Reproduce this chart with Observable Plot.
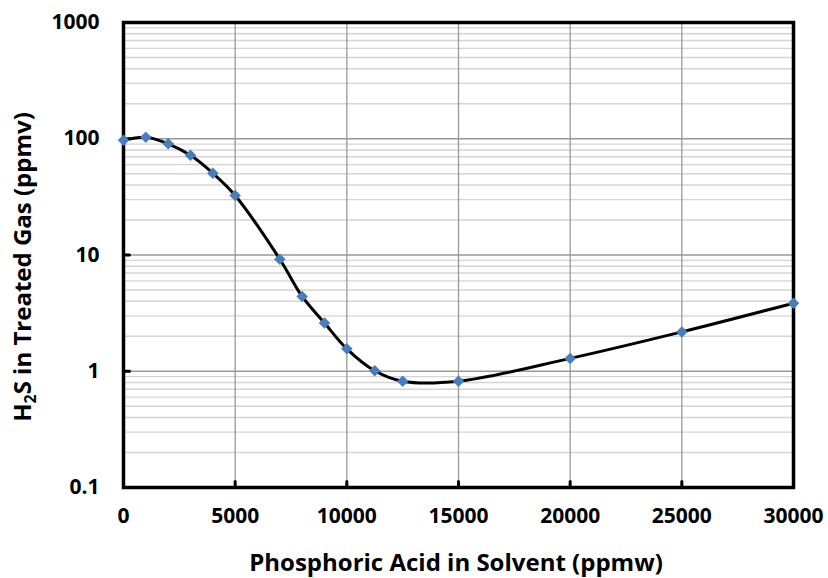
<!DOCTYPE html>
<html><head><meta charset="utf-8">
<script src="https://cdn.jsdelivr.net/npm/d3@7"></script>
<script src="https://cdn.jsdelivr.net/npm/@observablehq/plot@0.6"></script>
<style>
body{margin:0;background:#fff;}
#chart{width:828px;height:578px;}
</style>
</head><body><div id="chart"></div>
<script>
const acid = [0, 1000, 2000, 3000, 4000, 5000, 7000, 8000, 9000, 10000, 11250, 12500, 15000, 20000, 25000, 30000];
const h2s = [97, 103, 90.5, 72, 50.5, 32.5, 9.2, 4.4, 2.6, 1.56, 1.01, 0.82, 0.82, 1.29, 2.18, 3.85];
const xTicks = [0, 5000, 10000, 15000, 20000, 25000, 30000];
const yTicks = [0.1, 1, 10, 100, 1000];
const yMinor = [];
for (const d of [0.1, 1, 10, 100]) for (let k = 2; k <= 9; k++) yMinor.push(+(d * k).toPrecision(3));

const data = acid.map((x, i) => ({x, y: h2s[i]}));
const font = "'Open Sans', sans-serif";
const tickShape = {draw(ctx, l) { ctx.moveTo(0, 0); ctx.lineTo(0, -l); }};

const plot = Plot.plot({
  width: 828, height: 578,
  marginLeft: 123, marginRight: 35, marginTop: 22, marginBottom: 91,
  style: {fontFamily: font, fontSize: "21px", fontWeight: "bold", color: "#000", background: "#fff"},
  x: {domain: [0, 30000], ticks: xTicks, tickFormat: d => String(d), label: null},
  y: {type: "log", domain: [0.1, 1000], ticks: yTicks, tickFormat: d => String(d), label: null},
  marks: [
    Plot.ruleY(yMinor, {stroke: "#d4d4d4", strokeWidth: 1.3}),
    Plot.ruleY(yTicks, {stroke: "#999", strokeWidth: 1.3}),
    Plot.ruleX(xTicks, {stroke: "#999", strokeWidth: 1.3}),
    Plot.axisX({ticks: xTicks, tickFormat: d => String(d), tickSize: 0, tickPadding: 21, fontSize: 21, fontWeight: "bold", label: null}),
    Plot.axisY({ticks: yTicks, tickFormat: d => String(d), tickSize: 0, tickPadding: 24, fontSize: 21, fontWeight: "bold", label: null}),
    Plot.vector(xTicks, {x: d => d, y: () => 0.1, length: 6, rotate: 0, anchor: "start", shape: tickShape, stroke: "#000", strokeWidth: 3}),
    Plot.vector(yTicks, {x: () => 0, y: d => d, length: 6, rotate: 90, anchor: "start", shape: tickShape, stroke: "#000", strokeWidth: 3}),
    Plot.frame({stroke: "#000", strokeWidth: 3.5}),
    Plot.line(data, {x: "x", y: "y", curve: "catmull-rom", stroke: "#000", strokeWidth: 3}),
    Plot.dot(data, {x: "x", y: "y", symbol: "square", rotate: 45, r: 4.6, fill: "#4a7ebb", stroke: "none"})
  ]
});

const svg = d3.select(plot);
svg.append("text")
  .attr("x", 456).attr("y", 571)
  .attr("text-anchor", "middle")
  .style("font-family", font).style("font-size", "24px").style("font-weight", "bold")
  .text("Phosphoric Acid in Solvent (ppmw)");
const yt = svg.append("text")
  .attr("transform", "translate(31,267) rotate(-90)")
  .attr("text-anchor", "middle")
  .style("font-family", font).style("font-size", "24px").style("font-weight", "bold");
yt.append("tspan").text("H");
yt.append("tspan").attr("dy", 5).style("font-size", "16px").text("2");
yt.append("tspan").attr("dy", -5).text("S in Treated Gas (ppmv)");

document.getElementById("chart").appendChild(plot);
</script>
</body></html>
